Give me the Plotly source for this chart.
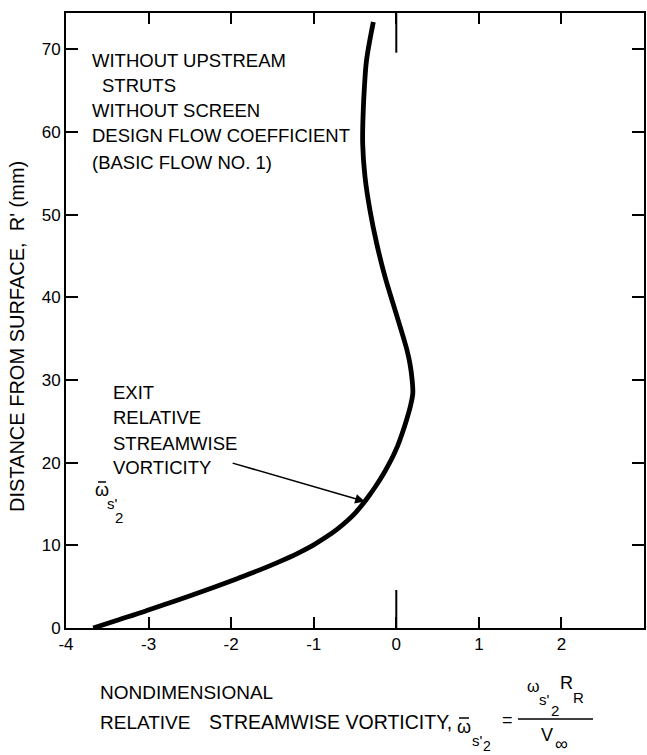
import plotly.graph_objects as go

# ---- data ----
vort_x = [-3.67, -3.36, -3.05, -2.76, -2.47, -2.19, -1.92, -1.66, -1.42, -1.20,
          -1.01, -0.85, -0.71, -0.59, -0.49, -0.405, -0.33, -0.26, -0.195, -0.135,
          -0.08, -0.03, 0.015, 0.07, 0.125, 0.17, 0.2, 0.19, 0.165, 0.13,
          0.09, 0.045, -0.016, -0.137, -0.237, -0.318, -0.379, -0.407, -0.40,
          -0.385, -0.36, -0.278]
dist_y = [0, 1, 2, 3, 4, 5, 6, 7, 8, 9,
          10, 11, 12, 13, 14, 15, 16, 17, 18, 19,
          20, 21, 22, 23.5, 25.2, 26.8, 28.4, 30.2, 32.0, 33.6,
          35.0, 36.5, 38.5, 42.5, 46.5, 50.5, 54.6, 58.6, 62.6,
          65.6, 68.7, 73.3]
x_ticks = [-4, -3, -2, -1, 0, 1, 2, 3]
y_ticks = [0, 10, 20, 30, 40, 50, 60, 70]
x_range = [-4, 3]
y_range = [0, 74.4]

conditions = ["WITHOUT UPSTREAM", "  STRUTS", "WITHOUT SCREEN",
              "DESIGN FLOW COEFFICIENT", "(BASIC FLOW NO. 1)"]
curve_label = ["EXIT", "RELATIVE", "STREAMWISE", "VORTICITY"]

W, H = 647, 755
L, R, T, B = 66, 644, 13, 628
FONT = "Liberation Sans, Arial, sans-serif"


def px(x):
    return (x - L) / (R - L)


def py(y):
    return (B - y) / (B - T)


fig = go.Figure()
fig.add_trace(go.Scatter(x=vort_x, y=dist_y, mode="lines",
                         line=dict(color="black", width=4.8, shape="spline",
                                   smoothing=1.0),
                         showlegend=False, hoverinfo="skip"))

ann = []
shapes = []


def txt(s, x, y, size=18, xa="left", ya="middle"):
    ann.append(dict(text=s, x=px(x), y=py(y), xref="paper", yref="paper",
                    xanchor=xa, yanchor=ya, showarrow=False,
                    font=dict(family=FONT, size=size, color="black")))


def macron(x0, x1, y):
    shapes.append(dict(type="line", xref="paper", yref="paper",
                       x0=px(x0), x1=px(x1), y0=py(y), y1=py(y),
                       line=dict(color="black", width=1.5)))


# condition block
cond_y = [61, 85, 111, 136, 162]
for s, yy in zip(conditions, cond_y):
    if s.startswith("  "):
        txt(s.strip(), 100, yy, size=18.5)
    else:
        txt(s, 90, yy, size=18.5)

# curve label block
lab_y = [392, 417, 443, 467]
for s, yy in zip(curve_label, lab_y):
    txt(s, 111, yy, size=18.5)
txt("ω", 102, 490, xa="center")
macron(98, 106, 482)
txt("s'", 112, 503, size=15, xa="center")
txt("2", 119, 517, size=15, xa="center")

# arrow
ann.append(dict(x=-0.38, y=15.3, ax=-2.0, ay=20.0, xref="x", yref="y",
                axref="x", ayref="y", showarrow=True, arrowhead=2,
                arrowsize=1.3, arrowwidth=1.5, arrowcolor="black", text=""))

# y-axis title
ann.append(dict(text="DISTANCE FROM SURFACE,  R' (mm)", x=px(17), y=py(337),
                xref="paper", yref="paper", xanchor="center", yanchor="middle",
                textangle=-90, showarrow=False,
                font=dict(family=FONT, size=20, color="black")))

# x-axis title
txt("NONDIMENSIONAL", 98, 692, size=19)
txt("RELATIVE", 98, 722, size=19)
txt("STREAMWISE VORTICITY,", 207, 722, size=19.5)
txt("ω", 464, 727, xa="center")
macron(459, 469, 718)
txt("s'", 477, 740, size=15, xa="center")
txt("2", 487, 746, size=14, xa="center")
txt("=", 508, 720, xa="center")
txt("ω", 533, 686, size=16, xa="center")
txt("s'", 544, 699, size=15, xa="center")
txt("2", 555, 710, size=15, xa="center")
txt("R", 566, 683, xa="center")
txt("R", 578, 697, size=15, xa="center")
txt("V", 547, 735, xa="center")
txt("∞", 561, 744, xa="center")

# fraction bar
shapes.append(dict(type="line", xref="paper", yref="paper", x0=px(518), x1=px(593),
                   y0=py(719), y1=py(719), line=dict(color="black", width=1.5)))
# long ticks at zero
shapes.append(dict(type="line", xref="x", yref="y", x0=0, x1=0, y0=0, y1=4.6,
                   line=dict(color="black", width=2)))
shapes.append(dict(type="line", xref="x", yref="y", x0=0, x1=0, y0=y_range[1],
                   y1=y_range[1] - 4.8, line=dict(color="black", width=2)))

fig.update_layout(
    width=W, height=H,
    margin=dict(l=L, r=W - R, t=T, b=H - B, autoexpand=False),
    paper_bgcolor="white", plot_bgcolor="white",
    annotations=ann, shapes=shapes, showlegend=False,
    font=dict(family=FONT, size=17, color="black"),
)
fig.update_xaxes(range=x_range, tickvals=x_ticks, ticktext=[str(v) for v in x_ticks],
                 ticks="inside", ticklen=11, tickwidth=2, tickcolor="black",
                 showline=True, linewidth=2, linecolor="black", mirror="ticks",
                 showgrid=False, zeroline=False,
                 tickfont=dict(family=FONT, size=17, color="black"))
fig.update_yaxes(range=y_range, tickvals=y_ticks, ticktext=[str(v) for v in y_ticks],
                 ticks="inside", ticklen=12, tickwidth=2, tickcolor="black",
                 showline=True, linewidth=2, linecolor="black", mirror="ticks",
                 showgrid=False, zeroline=False,
                 tickfont=dict(family=FONT, size=17, color="black"))

fig.write_html("out.html")
